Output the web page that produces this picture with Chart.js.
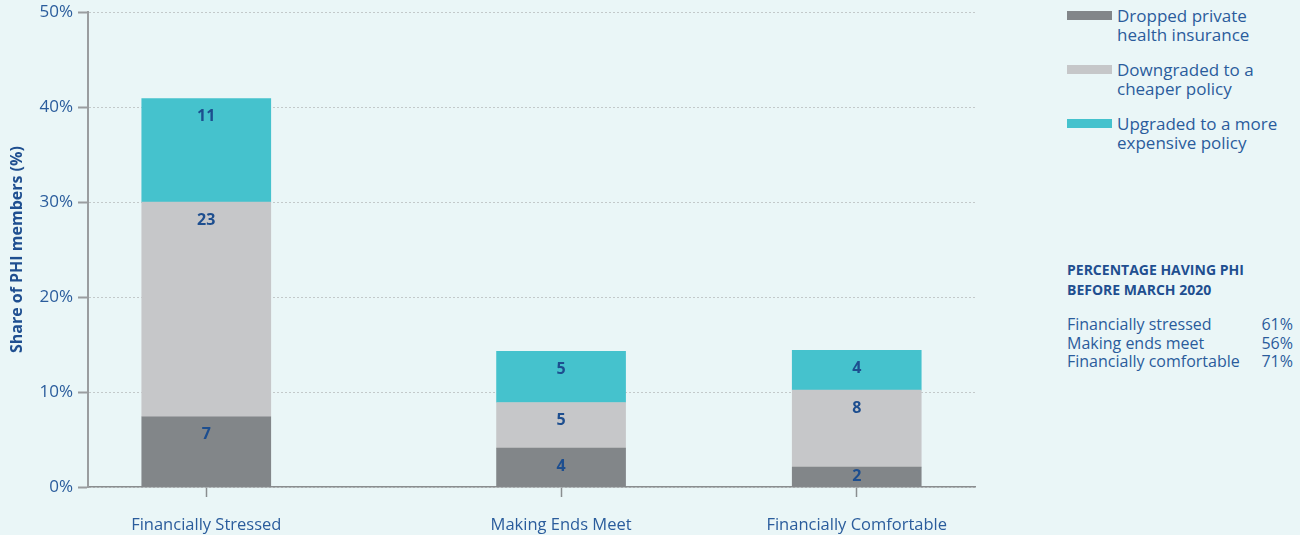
<!DOCTYPE html>
<html>
<head>
<meta charset="utf-8">
<script src="https://cdn.jsdelivr.net/npm/chart.js@4.4.0/dist/chart.umd.min.js"></script>
<style>
  body { margin: 0; width: 1300px; height: 535px; overflow: hidden; background: #eaf6f7;
         font-family: "Open Sans", sans-serif; color: #2a5c9c; position: relative; }
  #wrap { position: absolute; left: 0; top: -3px; width: 993px; height: 538px; }
  #legend { position: absolute; left: 1067px; top: 6px; font-size: 17px; line-height: 19px; }
  .item { display: flex; align-items: flex-start; margin-bottom: 16px; }
  .swatch { width: 45px; height: 9px; margin-top: 5px; margin-right: 5px; flex: none; }
  #phi { position: absolute; left: 1067px; top: 260px; width: 226px; font-size: 16px; }
  #phi h4 { margin: 0 0 15px 0; font-size: 14px; font-weight: 700; line-height: 20px; color: #1f4f90; }
  #phi .row { display: flex; justify-content: space-between; line-height: 18.5px; }
</style>
</head>
<body>
<div id="wrap"><canvas id="chartPHI"></canvas></div>
<div id="legend"></div>
<div id="phi">
  <h4>PERCENTAGE HAVING PHI<br>BEFORE MARCH 2020</h4>
  <div id="phiRows"></div>
</div>
<script>
// Datos del gráfico
const categories = ['Financially Stressed', 'Making Ends Meet', 'Financially Comfortable'];
// etiquetas del eje x (los huecos vacíos dan la separación desigual)
const axisLabels = ['', '', 'Financially Stressed', '', '', '', '', '', 'Making Ends Meet',
                    '', '', '', '', 'Financially Comfortable', '', ''];
const seriesNames = [
    ['Dropped private', 'health insurance'],
    ['Downgraded to a', 'cheaper policy'],
    ['Upgraded to a more', 'expensive policy']
];
const dropped = [7.4, 4.1, 2.1];
const downgraded = [22.6, 4.8, 8.1];
const upgraded = [10.9, 5.4, 4.2];
const yTicks = [0, 10, 20, 30, 40, 50];

const phiGroups = ['Financially stressed', 'Making ends meet', 'Financially comfortable'];
const phiShares = [61, 56, 71];

const colores = ['#828689', '#c6c7c9', '#45c2cd'];
const azul = '#2a5c9c';

Chart.defaults.font.family = '"Open Sans", sans-serif';

function toPoints(values) {
    return categories.map((c, i) => ({ x: c, y: values[i] }));
}

// etiquetas de valores dentro de las barras
const valueLabels = {
    id: 'valueLabels',
    afterDatasetsDraw(chart) {
        const ctx = chart.ctx;
        ctx.save();
        ctx.font = 'bold 16px "Open Sans"';
        ctx.fillStyle = '#1d4e8f';
        ctx.textAlign = 'center';
        ctx.textBaseline = 'middle';
        chart.data.datasets.forEach((ds, di) => {
            chart.getDatasetMeta(di).data.forEach((bar, i) => {
                const top = Math.min(bar.y, bar.base);
                const bottom = Math.max(bar.y, bar.base);
                const y = Math.min(top + 18, (top + bottom) / 2);
                ctx.fillText(Math.round(ds.data[i].y), bar.x, y);
            });
        });
        ctx.restore();
    }
};

const ctx = document.getElementById('chartPHI');
new Chart(ctx, {
    type: 'bar',
    data: {
        labels: axisLabels,
        datasets: [dropped, downgraded, upgraded].map((vals, i) => ({
            label: seriesNames[i].join(' '),
            data: toPoints(vals),
            backgroundColor: colores[i],
            borderWidth: 0,
            barThickness: 129
        }))
    },
    options: {
        responsive: true,
        maintainAspectRatio: false,
        animation: false,
        layout: { padding: { top: 0, right: 7 } },
        plugins: {
            legend: { display: false },
            tooltip: { enabled: false }
        },
        scales: {
            x: {
                stacked: true,
                offset: false,
                grid: {
                    display: true,
                    drawOnChartArea: false,
                    offset: false,
                    tickLength: 10,
                    tickWidth: 1.5,
                    tickColor: c => axisLabels[c.index] ? '#8a8d8f' : 'transparent'
                },
                border: { display: true, color: '#8a8d8f', width: 1.5 },
                ticks: { autoSkip: false, maxRotation: 0, padding: 18, color: azul, font: { size: 16.5 } },
                afterFit: s => { s.height = 48; }
            },
            y: {
                stacked: true,
                min: 0,
                max: 50,
                afterBuildTicks: s => { s.ticks = yTicks.map(v => ({ value: v })); },
                ticks: { callback: v => v + '%', padding: 5, color: azul, font: { size: 17 } },
                grid: {
                    color: '#c3c9ca',
                    lineWidth: 1,
                    tickColor: '#9a9d9f',
                    tickLength: 10,
                    tickWidth: 2,
                    tickBorderDash: []
                },
                border: { display: true, color: '#9a9d9f', width: 2, dash: [2, 2] },
                title: {
                    display: true,
                    text: 'Share of PHI members (%)',
                    color: '#1f4f90',
                    font: { size: 16, weight: 'bold' },
                    padding: { top: 8, bottom: 4 }
                },
                afterFit: s => { s.width = 88; }
            }
        }
    },
    plugins: [valueLabels]
});

// leyenda HTML
const legend = document.getElementById('legend');
seriesNames.forEach((lines, i) => {
    const item = document.createElement('div');
    item.className = 'item';
    item.innerHTML = '<div class="swatch" style="background:' + colores[i] + '"></div><div>' + lines.join('<br>') + '</div>';
    legend.appendChild(item);
});

const rows = document.getElementById('phiRows');
phiGroups.forEach((g, i) => {
    const r = document.createElement('div');
    r.className = 'row';
    r.innerHTML = '<span>' + g + '</span><span>' + phiShares[i] + '%</span>';
    rows.appendChild(r);
});
</script>
</body>
</html>
